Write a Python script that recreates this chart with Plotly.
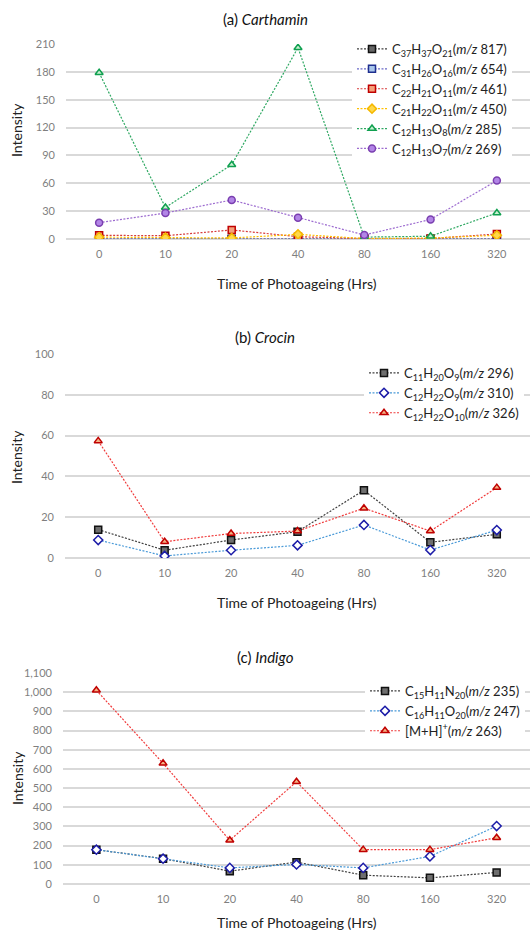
import plotly.graph_objects as go

times = ["0", "10", "20", "40", "80", "160", "320"]

# (a) Carthamin
a_names = [
    "C<sub>37</sub>H<sub>37</sub>O<sub>21</sub>(<i>m/z</i> 817)",
    "C<sub>31</sub>H<sub>26</sub>O<sub>16</sub>(<i>m/z</i> 654)",
    "C<sub>22</sub>H<sub>21</sub>O<sub>11</sub>(<i>m/z</i> 461)",
    "C<sub>21</sub>H<sub>22</sub>O<sub>11</sub>(<i>m/z</i> 450)",
    "C<sub>12</sub>H<sub>13</sub>O<sub>8</sub>(<i>m/z</i> 285)",
    "C<sub>12</sub>H<sub>13</sub>O<sub>7</sub>(<i>m/z</i> 269)",
]
a_817 = [0, 0, 0, 0, 0, 0, 0]
a_654 = [0, 0, 0, 0, 0, 0, 0]
a_461 = [4, 3.5, 9.7, 2.5, 0.5, 0.5, 5.4]
a_450 = [2, 1.5, 1.1, 5, 0.5, 1, 4]
a_285 = [179, 34, 80, 206, 2, 3, 28]
a_269 = [17.6, 28, 42, 23, 4.3, 21, 63]

# (b) Crocin
b_names = [
    "C<sub>11</sub>H<sub>20</sub>O<sub>9</sub>(<i>m/z</i> 296)",
    "C<sub>12</sub>H<sub>22</sub>O<sub>9</sub>(<i>m/z</i> 310)",
    "C<sub>12</sub>H<sub>22</sub>O<sub>10</sub>(<i>m/z</i> 326)",
]
b_296 = [13.9, 3.8, 8.8, 12.9, 33.2, 7.7, 11.6]
b_310 = [8.8, 1.0, 3.8, 6.2, 16.2, 3.9, 13.7]
b_326 = [57.4, 8.0, 12.0, 13.2, 24.4, 13.2, 34.5]

# (c) Indigo
c_names = [
    "C<sub>15</sub>H<sub>11</sub>N<sub>20</sub>(<i>m/z</i> 235)",
    "C<sub>16</sub>H<sub>11</sub>O<sub>20</sub>(<i>m/z</i> 247)",
    "[M+H]<sup>+</sup>(<i>m/z</i> 263)",
]
c_235 = [179, 132, 67, 114, 46, 32, 60]
c_247 = [179, 132, 84, 102, 84, 144, 302]
c_263 = [1010, 629, 228, 533, 179, 179, 241]

FONT = "Lato, 'Open Sans', sans-serif"
W, H = 530, 931

fig = go.Figure()


def add(x_ax, y_ax, leg, name, y, line_color, symbol, fill, outline, size=7):
    fig.add_trace(go.Scatter(
        x=times, y=y, name=name, mode="lines+markers",
        xaxis=x_ax, yaxis=y_ax, legend=leg,
        line=dict(color=line_color, width=1.2, dash="2px,1.5px"),
        marker=dict(symbol=symbol, size=size, color=fill,
                    line=dict(color=outline, width=1.5)),
    ))


# panel a
add("x", "y", "legend", a_names[0], a_817, "#404040", "square", "#666666", "#111111")
add("x", "y", "legend", a_names[1], a_654, "#6a6ac8", "square", "#a9c6ea", "#1f2f8f")
add("x", "y", "legend", a_names[2], a_461, "#d83a3a", "square", "#f4a07a", "#c00000")
add("x", "y", "legend", a_names[3], a_450, "#ffc000", "diamond", "#ffd84a", "#f5b800")
add("x", "y", "legend", a_names[4], a_285, "#2ea862", "triangle-up", "#c8f0d0", "#10a050")
add("x", "y", "legend", a_names[5], a_269, "#9d6cd0", "circle", "#b285e6", "#7a3fb0")

# panel b
add("x2", "y2", "legend2", b_names[0], b_296, "#404040", "square", "#6e6e6e", "#111111")
add("x2", "y2", "legend2", b_names[1], b_310, "#4a9ad8", "diamond", "#ffffff", "#1c1ca8")
add("x2", "y2", "legend2", b_names[2], b_326, "#f03c3c", "triangle-up", "#f4b183", "#c00000")

# panel c
add("x3", "y3", "legend3", c_names[0], c_235, "#404040", "square", "#6e6e6e", "#111111")
add("x3", "y3", "legend3", c_names[1], c_247, "#4a9ad8", "diamond", "#ffffff", "#1c1ca8")
add("x3", "y3", "legend3", c_names[2], c_263, "#f03c3c", "triangle-up", "#f4b183", "#c00000")


def py(px):
    return 1 - px / H


grid = "#d9d9d9"
tickfont = dict(family=FONT, size=11, color="#7f7f7f")

panels = [
    ("", "", 239, 44, [0, 210], 30, 66, None),
    ("2", "2", 558, 354, [0, 100], 20, 65, None),
    ("3", "3", 884, 673, [0, 1100], 100, 63, ","),
]
layout = {}
for xs, ys, bot, top, rng, dt, left, fmt in panels:
    xa = "xaxis" + xs
    ya = "yaxis" + ys
    layout[xa] = dict(
        domain=[left / W, 1.0], anchor="y" + ys, type="category",
        range=[-0.5, 6.5], showgrid=False, showline=False, ticks="",
        tickfont=tickfont, zeroline=False, fixedrange=True, automargin=False,
        ticklabelstandoff=7,
    )
    yd = dict(
        domain=[py(bot), py(top)], anchor="x" + xs, range=rng, dtick=dt,
        tick0=0, showgrid=True, gridcolor=grid, gridwidth=1.5,
        zeroline=True, zerolinecolor=grid, zerolinewidth=1.5,
        showline=False, ticks="", tickfont=tickfont, ticklabelstandoff=10,
        automargin=False,
    )
    if fmt:
        yd["tickformat"] = fmt
    layout[ya] = yd

leg_common = dict(
    bgcolor="#ffffff", font=dict(family=FONT, size=13, color="#222222"),
    xanchor="left", yanchor="top", itemwidth=30, tracegroupgap=0,
    borderwidth=0,
)
layout["legend"] = dict(leg_common, x=352 / W, y=py(34))
layout["legend2"] = dict(leg_common, x=364 / W, y=py(358))
layout["legend3"] = dict(leg_common, x=365 / W, y=py(676))

annotations = []
titles = [
    ("(a) <i>Carthamin</i>", 19, 283, 130),
    ("(b) <i>Crocin</i>", 337, 602, 457),
    ("(c) <i>Indigo</i>", 657, 922, 778),
]
for t, ty, xt_y, yt_y in titles:
    annotations.append(dict(text=t, x=0.5, y=py(ty), xref="paper", yref="paper",
                            showarrow=False, xanchor="center", yanchor="middle",
                            font=dict(family=FONT, size=15, color="#111111")))
    annotations.append(dict(text="Time of Photoageing (Hrs)", x=297 / W, y=py(xt_y),
                            xref="paper", yref="paper", showarrow=False,
                            xanchor="center", yanchor="middle",
                            font=dict(family=FONT, size=14, color="#222222")))
    annotations.append(dict(text="Intensity", x=17 / W, y=py(yt_y), xref="paper",
                            yref="paper", showarrow=False, textangle=-90,
                            xanchor="center", yanchor="middle",
                            font=dict(family=FONT, size=14, color="#222222")))

fig.update_layout(
    width=W, height=H, margin=dict(l=0, r=0, t=0, b=0, autoexpand=False),
    paper_bgcolor="#ffffff", plot_bgcolor="#ffffff",
    showlegend=True, annotations=annotations,
    font=dict(family=FONT),
    **layout,
)

fig.write_html(
    "out.html",
    config={"displayModeBar": False},
    post_script="document.body.style.margin='0px';document.body.style.overflow='hidden';",
)
